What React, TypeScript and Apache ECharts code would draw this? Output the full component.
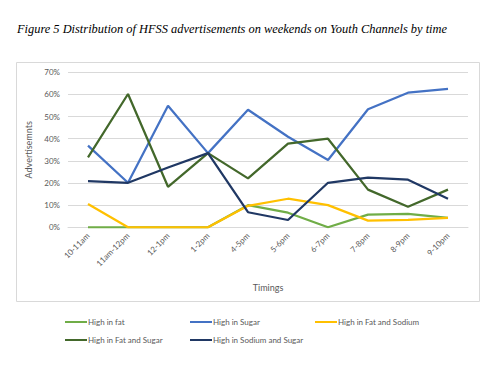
import React, { useEffect, useRef } from "react";
import * as echarts from "echarts";

const categories = ["10-11am", "11am-12pm", "12-1pm", "1-2pm", "4-5pm", "5-6pm", "6-7pm", "7-8pm", "8-9pm", "9-10pm"];
const highFat = [0, 0, 0, 0, 10, 6.6, 0, 5.7, 6.1, 4.3];
const highSugar = [36.9, 20.1, 54.9, 33.5, 53.1, 40.9, 30.4, 53.3, 60.8, 62.5];
const highFatSodium = [10.5, 0, 0, 0, 9.7, 12.9, 10, 3, 3.4, 4.3];
const highFatSugar = [31.6, 60.2, 18.3, 33.5, 22.1, 37.8, 40, 17, 9.3, 17];
const highSodiumSugar = [20.9, 20.1, 27, 33.5, 6.8, 3.3, 20.1, 22.4, 21.5, 12.9];
const yTicks = [0, 10, 20, 30, 40, 50, 60, 70];

const seriesNames = ["High in fat", "High in Sugar", "High in Fat and Sodium", "High in Fat and Sugar", "High in Sodium and Sugar"];
const seriesData = [highFat, highSugar, highFatSodium, highFatSugar, highSodiumSugar];
const colors = ["#70AD47", "#4472C4", "#FFC000", "#43682B", "#203864"];
const legendPos = [
  { left: 65, top: 318 },
  { left: 190, top: 318 },
  { left: 315, top: 318 },
  { left: 65, top: 336 },
  { left: 190, top: 336 },
];

const FONT = "Lato, 'Open Sans', sans-serif";
const GREY = "#595959";

export default function App() {
  const ref = useRef<HTMLDivElement>(null);
  useEffect(() => {
    if (!ref.current) return;
    const chart = echarts.init(ref.current, null, { renderer: "svg" });
    chart.setOption({
      animation: false,
      backgroundColor: "#ffffff",
      graphic: [
        {
          type: "text",
          left: 17,
          top: 23,
          style: {
            text: "Figure 5 Distribution of HFSS advertisements on weekends on Youth Channels by time",
            font: "italic 12.4px 'Liberation Serif', 'Times New Roman', serif",
            fill: "#000000",
          },
        },
        {
          type: "rect",
          shape: { x: 16.5, y: 62.5, width: 463, height: 239 },
          style: { fill: "none", stroke: "#d9d9d9", lineWidth: 1 },
          silent: true,
        },
      ],
      legend: seriesNames.map((n, i) => ({
        data: [n],
        left: legendPos[i].left,
        top: legendPos[i].top,
        icon: "rect",
        itemWidth: 22,
        itemHeight: 2,
        padding: 0,
        textStyle: { color: GREY, fontSize: 8, fontFamily: FONT, padding: [0, 0, 0, -4] },
      })),
      grid: { left: 68, top: 72.3, width: 400, height: 155, containLabel: false },
      xAxis: {
        type: "category",
        data: categories,
        boundaryGap: true,
        axisLine: { show: true, lineStyle: { color: "#d9d9d9" } },
        axisTick: { show: false },
        axisLabel: { rotate: 45, color: GREY, fontSize: 8, fontFamily: FONT, margin: 7, interval: 0 },
        name: "Timings",
        nameLocation: "middle",
        nameGap: 56,
        nameTextStyle: { color: GREY, fontSize: 9, fontFamily: FONT },
      },
      yAxis: {
        type: "value",
        min: 0,
        max: 70,
        interval: 10,
        axisLine: { show: false },
        axisTick: { show: false },
        splitLine: { lineStyle: { color: "#d9d9d9" } },
        axisLabel: { color: GREY, fontSize: 8, fontFamily: FONT, margin: 8, formatter: (v: number) => (yTicks.includes(v) ? v + "%" : "") },
        name: "Advertisemnts",
        nameLocation: "middle",
        nameGap: 32,
        nameTextStyle: { color: GREY, fontSize: 9, fontFamily: FONT },
      },
      series: seriesNames.map((n, i) => ({
        name: n,
        type: "line",
        data: seriesData[i],
        symbol: "none",
        lineStyle: { color: colors[i], width: 2.25 },
        itemStyle: { color: colors[i] },
      })),
    });
    return () => chart.dispose();
  }, []);
  return <div ref={ref} style={{ width: 503, height: 379, position: "absolute", left: 0, top: 0 }} />;
}
